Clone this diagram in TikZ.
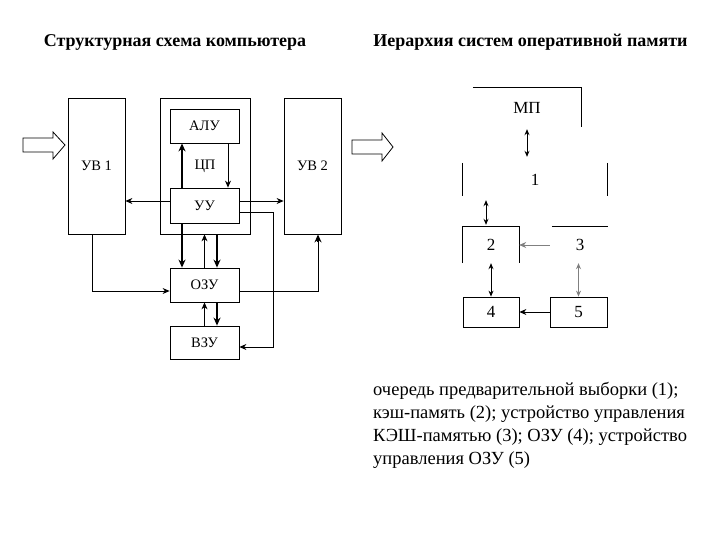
\documentclass[tikz,border=0pt]{standalone}
\usepackage{fontspec}
\setmainfont{Liberation Serif}
\usetikzlibrary{arrows.meta}

\tikzset{
  blk/.style={draw, line width=0.8pt, inner sep=0pt, font=\fontsize{14.5}{14.5}\selectfont},
  bare/.style={inner sep=0pt, font=\fontsize{17}{17}\selectfont},
  thinarr/.style={line width=0.8pt, -{Stealth[length=7pt, width=6pt]}},
  thickarr/.style={line width=2pt, -{Stealth[length=8pt, width=7pt]}},
  twoway/.style={line width=0.8pt, {Stealth[length=6pt, width=5pt]}-{Stealth[length=6pt, width=5pt]}},
  hollow/.style={draw, line width=0.8pt, fill=white}
}

\begin{document}
\begin{tikzpicture}[x=1pt, y=-1pt]
  \useasboundingbox (0,0) rectangle (720,540);

  % Titles
  \node[font=\fontsize{18}{18}\selectfont\bfseries] (tleft) at (175,42) {Структурная схема компьютера};
  \node[font=\fontsize{18}{18}\selectfont\bfseries] (tright) at (530.5,42) {Иерархия систем оперативной памяти};

  % Left: computer blocks
  \node[blk, minimum width=57pt, minimum height=136pt] (uv1) at (96.5,166) {УВ 1};
  \node[blk, minimum width=90pt, minimum height=136pt] (cpu) at (205,166) {ЦП};
  \node[blk, minimum width=57pt, minimum height=136pt] (uv2) at (312.5,166) {УВ 2};
  \node[blk, fill=white, minimum width=69pt, minimum height=34pt] (alu) at (204.5,126) {АЛУ};
  \node[blk, fill=white, minimum width=69pt, minimum height=35pt] (uu) at (204.5,205.5) {УУ};
  \node[blk, minimum width=69pt, minimum height=34pt] (ozu) at (204.5,285) {ОЗУ};
  \node[blk, minimum width=69pt, minimum height=33pt] (vzu) at (204.5,342.5) {ВЗУ};

  % Input arrows
  \draw[hollow] (23,138) -- (53,138) -- (53,132) -- (65,145) -- (53,159) -- (53,152) -- (23,152) -- cycle;
  \draw[hollow] (352,140) -- (382,140) -- (382,133) -- (393,147) -- (382,161) -- (382,154) -- (352,154) -- cycle;

  % Helper points
  \coordinate (uuL) at ([yshift=4.5pt]uu.west);
  \coordinate (uuR) at ([yshift=4.5pt]uu.east);
  \coordinate (uuR2) at ([yshift=-6.5pt]uu.east);
  \coordinate (vzuR) at ([yshift=-4.5pt]vzu.east);
  \coordinate (ozuL) at ([yshift=-6pt]ozu.west);
  \coordinate (ozuR) at ([yshift=-6pt]ozu.east);
  \coordinate (uv1B) at ([xshift=-4.5pt]uv1.south);
  \coordinate (uv2B) at ([xshift=5.5pt]uv2.south);

  % Connections inside and around the CPU
  \draw[thinarr] (uuL) -- (uuL -| uv1.east);
  \draw[thinarr] (uuR) -- (uuR -| uv2.west);
  \draw[thinarr] ([xshift=23.5pt]alu.south) -- ([xshift=23.5pt]uu.north);
  \draw[thickarr] ([xshift=-22.5pt]uu.north) -- ([xshift=-22.5pt]alu.south);
  \draw[thinarr] (uuR2) -- ++(34,0) |- (vzuR);

  % Memory links
  \draw[thickarr] ([xshift=-22.5pt]uu.south) -- ([xshift=-22.5pt]ozu.north);
  \draw[thickarr] ([xshift=12.5pt]ozu.north |- cpu.south) -- ([xshift=12.5pt]ozu.north);
  \draw[thinarr] (ozu.north) -- (ozu.north |- cpu.south);
  \draw[thinarr] (vzu.north) -- (ozu.south);
  \draw[thickarr] ([xshift=12.5pt]ozu.south) -- ([xshift=12.5pt]vzu.north);
  \draw[thinarr] (uv1B) |- (ozuL);
  \draw[line width=0.8pt] (ozuR) -| ([yshift=-8pt]uv2B);
  \draw[thickarr] ([yshift=-8pt]uv2B) -- (uv2B);

  % Right: memory hierarchy
  \node[bare, minimum width=108pt, minimum height=39pt] (mp) at (527,107.5) {МП};
  \node[bare, minimum width=144pt, minimum height=33pt] (b1) at (535,179.5) {1};
  \node[bare, minimum width=56pt, minimum height=36pt] (b2) at (491,245) {2};
  \node[bare, minimum width=56pt, minimum height=36pt] (b3) at (580,245) {3};
  \node[bare, draw, line width=0.8pt, minimum width=56pt, minimum height=30pt] (b4) at (491,312) {4};
  \node[bare, draw, line width=0.8pt, minimum width=57pt, minimum height=30pt] (b5) at (578.5,312) {5};

  % Partial outlines
  \draw[line width=0.8pt] (mp.north west) -- (mp.north east) -- (mp.south east);
  \draw[line width=0.8pt] (b1.north west) -- (b1.south west);
  \draw[line width=0.8pt] (b1.north east) -- (b1.south east);
  \draw[line width=0.8pt] (b2.south west) -- (b2.north west) -- (b2.north east) -- (b2.south east);
  \draw[line width=0.8pt] (b3.north west) -- (b3.north east);

  % Hierarchy links
  \draw[twoway, shorten <=2pt, shorten >=6pt] (mp.south) -- (mp.south |- b1.north);
  \draw[twoway, shorten <=4pt, shorten >=2pt] ([xshift=-5pt]b2.north |- b1.south) -- ([xshift=-5pt]b2.north);
  \draw[thinarr, gray, shorten <=2pt] (b3.west) -- (b2.east);
  \draw[twoway] (b2.south) -- (b4.north);
  \draw[twoway, gray] (b5.north |- b3.south) -- (b5.north);
  \draw[thinarr] (b5.west) -- (b4.east);

  % Legend
  \node[anchor=north west, align=left, inner sep=0pt, font=\fontsize{18.5}{23}\selectfont] (legend) at (373,382)
    {очередь предварительной выборки (1);\\
     кэш-память (2); устройство управления\\
     КЭШ-памятью (3); ОЗУ (4); устройство\\
     управления ОЗУ (5)};
\end{tikzpicture}
\end{document}
